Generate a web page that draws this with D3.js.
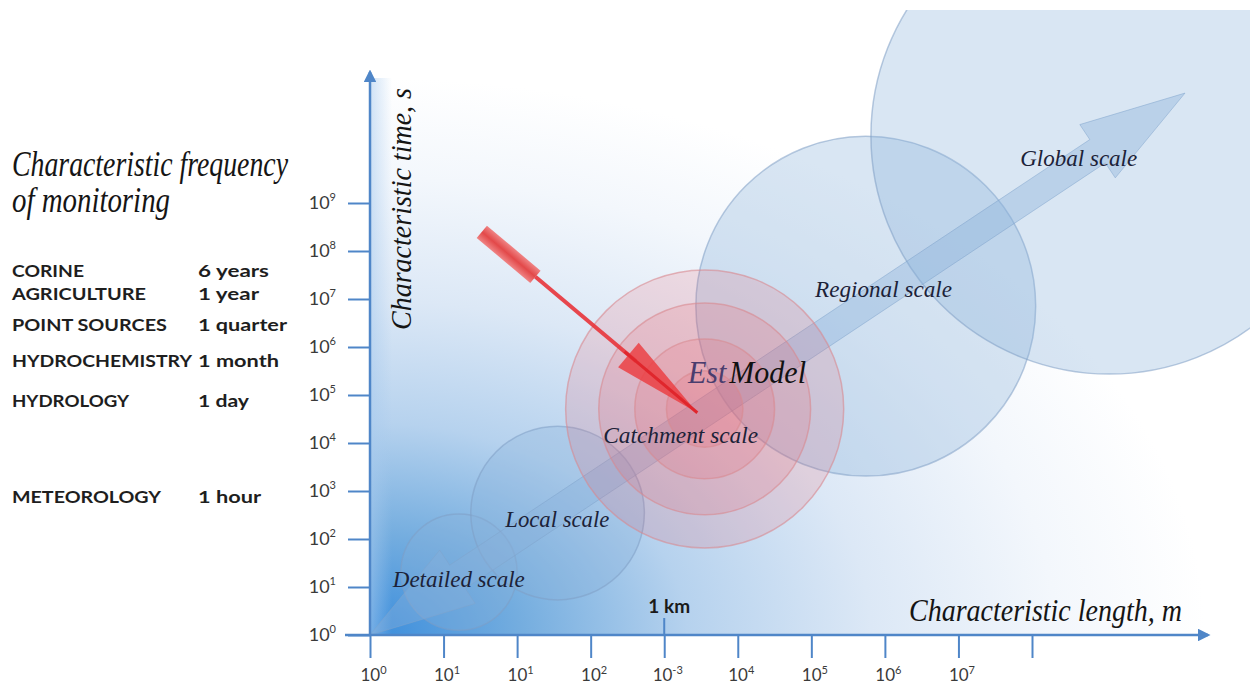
<!DOCTYPE html>
<html><head><meta charset="utf-8">
<script src="https://cdn.jsdelivr.net/npm/d3@7"></script>
<style>html,body{margin:0;padding:0;background:#fff;} svg{display:block;}</style>
</head><body>
<svg id="chart" width="1250" height="684"></svg>
<script>
// ---------- data ----------
const xTickExponents = ["0","1","1","2","-3","4","5","6","7",""];
const yTickExponents = ["0","1","2","3","4","5","6","7","8","9"];
const scaleNames   = ["Detailed scale","Local scale","Catchment scale","Regional scale","Global scale"];
const scaleCenterX = [1.21, 2.55, 4.55, 6.74, 10.05];
const scaleCenterY = [1.31, 2.54, 4.71, 6.85, 10.4];
const scaleRadius  = [0.79, 1.18, 1.89, 2.31, 3.24];
const catchmentRings = [1.89, 1.44, 0.95, 0.52];
const labelX = [0.31, 1.84, 3.17, 6.05, 8.84];
const labelY = [1.0, 2.25, 4.0, 7.04, 9.77];
const labelWidth = [132, 104, 155, 137, 117];
const monitoringSources   = ["CORINE","AGRICULTURE","POINT SOURCES","HYDROCHEMISTRY","HYDROLOGY","METEOROLOGY"];
const monitoringFrequency = ["6 years","1 year","1 quarter","1 month","1 day","1 hour"];
const mainArrow = {x0: 0, y0: 0, x1: 11.08, y1: 11.29};
const modelArrow = {x0: 1.52, y0: 8.4, x1: 4.45, y1: 4.63};
const kmTick = 4;

// ---------- layout ----------
const svg = d3.select("#chart");
const x = d3.scaleLinear().domain([0, 9]).range([370, 1032]);
const y = d3.scaleLinear().domain([0, 9]).range([635, 203]);
const unit = x(1) - x(0);
const defs = svg.append("defs");
defs.append("clipPath").attr("id","clip").append("rect").attr("x",0).attr("y",10).attr("width",1250).attr("height",674);
const plot = svg.append("g").attr("clip-path","url(#clip)");

// background gradient in the quadrant
const rg = defs.append("radialGradient").attr("id","bg")
  .attr("cx",0).attr("cy",1).attr("r",1).attr("fx",0).attr("fy",1);
[[0,"#3a8ddc"],[0.18,"#74addf"],[0.38,"#b6d2ee"],[0.6,"#dce8f6"],[0.82,"#f3f7fc"],[1,"#ffffff"]]
  .forEach(([o,c]) => rg.append("stop").attr("offset",o).attr("stop-color",c));
plot.append("rect").attr("x", x(0)).attr("y", 78).attr("width", 1205 - x(0)).attr("height", y(0) - 78)
  .attr("fill","url(#bg)");
const lg = defs.append("linearGradient").attr("id","band").attr("x1",0).attr("x2",1).attr("y1",0).attr("y2",0);
lg.append("stop").attr("offset",0).attr("stop-color","#a9cbee").attr("stop-opacity",0.55);
lg.append("stop").attr("offset",1).attr("stop-color","#a9cbee").attr("stop-opacity",0);
plot.append("rect").attr("x", x(0)).attr("y", 78).attr("width", 22).attr("height", y(0) - 78).attr("fill","url(#band)");

// blue scale circles
const blueIdx = [0,1,3,4];
plot.append("g").selectAll("circle").data(blueIdx).join("circle")
  .attr("cx", i => x(scaleCenterX[i])).attr("cy", i => y(scaleCenterY[i]))
  .attr("r", i => scaleRadius[i] * unit)
  .attr("fill", "#8ab0da").attr("fill-opacity", 0.32)
  .attr("stroke", "#7f9fc4").attr("stroke-opacity", 0.55).attr("stroke-width", 1.5);

// main double-headed arrow
function arrowPoly(a, w, hl, hw) {
  const p0 = [x(a.x0), y(a.y0)], p1 = [x(a.x1), y(a.y1)];
  const dx = p1[0]-p0[0], dy = p1[1]-p0[1], L = Math.hypot(dx, dy);
  const ux = dx/L, uy = dy/L, vx = -uy, vy = ux;
  const loc = [[0,0],[hl,hw],[hl,w],[L-hl,w],[L-hl,hw],[L,0],[L-hl,-hw],[L-hl,-w],[hl,-w],[hl,-hw]];
  return loc.map(([u,v]) => [p0[0]+u*ux+v*vx, p0[1]+u*uy+v*vy]);
}
plot.append("path").attr("d", d3.line()(arrowPoly(mainArrow, 14, 105, 32)) + "Z")
  .attr("fill","#8ab0da").attr("fill-opacity",0.38)
  .attr("stroke","#7fa3cc").attr("stroke-opacity",0.5).attr("stroke-width",1);

// catchment rings (red)
const ci = 2;
plot.append("g").selectAll("circle").data(catchmentRings).join("circle")
  .attr("cx", x(scaleCenterX[ci])).attr("cy", y(scaleCenterY[ci]))
  .attr("r", r => r * unit)
  .attr("fill", "#ee5a64").attr("fill-opacity", 0.17)
  .attr("stroke", "#d98890").attr("stroke-opacity", 0.6).attr("stroke-width", 1.5);

// red model arrow
(function(){
  const p0 = [x(modelArrow.x0), y(modelArrow.y0)], p1 = [x(modelArrow.x1), y(modelArrow.y1)];
  const dx = p1[0]-p0[0], dy = p1[1]-p0[1], L = Math.hypot(dx, dy);
  const ang = Math.atan2(dy, dx) * 180 / Math.PI;
  const g = plot.append("g").attr("transform", `translate(${p0[0]},${p0[1]}) rotate(${ang})`);
  const tg = defs.append("linearGradient").attr("id","tail").attr("x1",0).attr("x2",0).attr("y1",0).attr("y2",1);
  tg.append("stop").attr("offset",0).attr("stop-color","#f07a7a");
  tg.append("stop").attr("offset",0.5).attr("stop-color","#e23a3a");
  tg.append("stop").attr("offset",1).attr("stop-color","#f07a7a");
  g.append("rect").attr("x",0).attr("y",-8).attr("width",70).attr("height",16).attr("fill","url(#tail)").attr("opacity",0.92);
  g.append("rect").attr("x",70).attr("y",-2).attr("width",L-150).attr("height",4).attr("fill","#e8343a").attr("opacity",0.9);
  g.append("path").attr("d", `M${L-90},-16 L${L},0 L${L-90},16 Z`).attr("fill","#ec3c40").attr("fill-opacity",0.82);
  g.append("rect").attr("x",L-95).attr("y",-1.5).attr("width",95).attr("height",3).attr("fill","#e0262c");
})();

// axes
const axisColor = "#4f86c8";
const yAxis = svg.append("g").attr("transform", `translate(${x(0)},0)`)
  .call(d3.axisLeft(y).tickValues(d3.range(10)).tickSize(22).tickPadding(12).tickFormat(""));
const xAxis = svg.append("g").attr("transform", `translate(0,${y(0)})`)
  .call(d3.axisBottom(x).tickValues(d3.range(10)).tickSize(23).tickFormat(""));
[yAxis, xAxis].forEach(g => {
  g.select(".domain").remove();
  g.attr("font-size", null).attr("font-family", null);
  g.selectAll(".tick line").attr("stroke", axisColor).attr("stroke-width", 2);
});
function supLabel(sel, exps, size) {
  sel.selectAll(".tick").each(function(d){
    const t = d3.select(this).select("text");
    t.text(null).attr("fill","#3a3a3a")
      .style("font-family","Lato, 'Open Sans', sans-serif").style("font-size", size + "px");
    if (exps[d] === "") return;
    t.append("tspan").text("10");
    t.append("tspan").text(exps[d]).style("font-size", Math.round(size*0.62) + "px").attr("dy", -size*0.42);
  });
}
supLabel(yAxis, yTickExponents, 18);
supLabel(xAxis, xTickExponents, 17);
yAxis.selectAll(".tick text").attr("dy", 5).attr("x", -34);
xAxis.selectAll(".tick text").attr("y", 46).attr("dy", 0).attr("dx", 3);

// axis lines with arrowheads
const mk = defs.append("marker").attr("id","ah").attr("viewBox","0 0 10 10").attr("refX",8).attr("refY",5)
  .attr("markerWidth",5).attr("markerHeight",5).attr("orient","auto");
mk.append("path").attr("d","M0,0 L10,5 L0,10 Z").attr("fill",axisColor);
svg.append("line").attr("x1", x(0)).attr("y1", y(0)).attr("x2", x(0)).attr("y2", 72)
  .attr("stroke", axisColor).attr("stroke-width", 2.5).attr("marker-end","url(#ah)");
svg.append("line").attr("x1", 345).attr("y1", y(0)).attr("x2", 1208).attr("y2", y(0))
  .attr("stroke", axisColor).attr("stroke-width", 2.5).attr("marker-end","url(#ah)");
svg.append("line").attr("x1", x(kmTick)).attr("x2", x(kmTick)).attr("y1", y(0) - 17).attr("y2", y(0))
  .attr("stroke", axisColor).attr("stroke-width", 2);
svg.append("text").attr("x", x(kmTick) + 5).attr("y", y(0) - 22).attr("text-anchor","middle")
  .style("font-family","Lato, 'Open Sans', sans-serif").attr("font-weight","bold").style("font-size","19px")
  .attr("fill","#1a1a1a").text("1 km");

// script-like texts
const scriptFont = "'Liberation Serif', 'DejaVu Serif', serif";
function script(txt, px, py, size, width, color, rot) {
  const t = svg.append("text").attr("x", px).attr("y", py)
    .attr("font-family", scriptFont).attr("font-style","italic").attr("font-size", size)
    .attr("fill", color || "#151515").text(txt);
  if (width) t.attr("textLength", width).attr("lengthAdjust","spacingAndGlyphs");
  if (rot) t.attr("transform", `rotate(${rot},${px},${py})`);
  return t;
}
svg.append("g").selectAll("text").data(d3.range(scaleNames.length)).join("text")
  .attr("x", i => x(labelX[i])).attr("y", i => y(labelY[i]))
  .attr("font-family", scriptFont).attr("font-style","italic").attr("font-size", 24)
  .attr("fill", "#1c2238").attr("textLength", i => labelWidth[i]).attr("lengthAdjust","spacingAndGlyphs")
  .text(i => scaleNames[i]);

const em = svg.append("text").attr("x", 688).attr("y", 383)
  .attr("font-family", scriptFont).attr("font-style","italic").attr("font-size", 31);
em.append("tspan").attr("fill","#4a3d6e").text("Est");
em.append("tspan").attr("fill","#111").attr("dx",3).text("Model");
em.attr("textLength", 118).attr("lengthAdjust","spacingAndGlyphs");

script("Characteristic length, m", 909, 621, 31, 273);
script("Characteristic time, s", 411, 330, 29, 242, null, -90);
script("Characteristic frequency", 12, 176, 35, 276);
script("of monitoring", 12, 212, 35, 158);

// monitoring list
const rowY = [277, 300, 331, 367, 407, 503];
const srcW = [72, 134, 155, 180, 117, 149];
const freqW = [71, 61, 89, 81, 51, 63];
const list = svg.append("g").attr("font-family","Lato, 'Open Sans', sans-serif").attr("font-weight","bold")
  .attr("font-size",17).attr("fill","#1e1e1e");
list.selectAll("text.src").data(monitoringSources).join("text").attr("class","src")
  .attr("x", 12).attr("y", (d,i) => rowY[i]).attr("textLength",(d,i)=>srcW[i]).attr("lengthAdjust","spacingAndGlyphs").text(d => d);
list.selectAll("text.frq").data(monitoringFrequency).join("text").attr("class","frq")
  .attr("x", 198).attr("y", (d,i) => rowY[i]).attr("textLength",(d,i)=>freqW[i]).attr("lengthAdjust","spacingAndGlyphs").text(d => d);
</script>
</body></html>
